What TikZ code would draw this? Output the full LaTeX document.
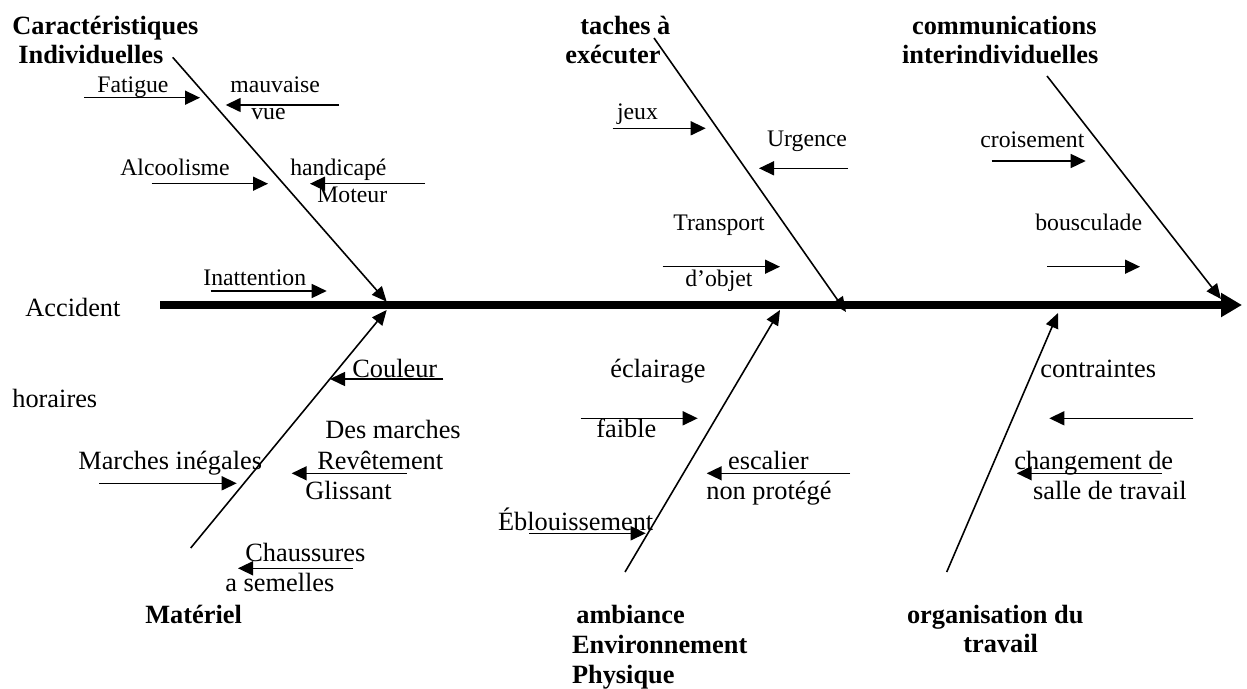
\documentclass[tikz,border=0pt]{standalone}
\usepackage{fontspec}
\setmainfont{Liberation Serif}
\usetikzlibrary{arrows.meta}

\begin{document}
\begin{tikzpicture}[
    x=0.02cm,
    y=-0.02cm,
    lbl/.style={anchor=base west, inner sep=0pt, font=\fontsize{13.5}{16}\selectfont},
    lblbig/.style={lbl, font=\fontsize{15}{18}\selectfont},
    head/.style={lbl, font=\fontsize{15}{18}\selectfont\bfseries},
    cause/.style={line width=0.85pt, -{Triangle[length=0.3cm, width=0.28cm]}},
    bone/.style={line width=0.9pt, -{Triangle[length=0.3cm, width=0.26cm]}},
    spine/.style={line width=4.3pt, -{Triangle[length=0.42cm, width=0.46cm]}}
  ]
    \useasboundingbox (0,0) rectangle (1247,689);

    % spine
    \node[lblbig] (accident) at (25,316) {Accident};
    \coordinate (spine-s) at (160,305);
    \coordinate (spine-e) at (1242,305);
    \draw[spine] (spine-s) -- (spine-e);

    % main bones
    \foreach \n/\xa/\ya/\xb/\yb in {indiv/172.7/57.3/386.7/301.7, taches/654/38/846/312,
        comm/1047/76/1221/299, mater/190.7/548/386.7/310,
        ambi/625/572/780/310, orga/946.7/572/1058/313}{
      \coordinate (\n-s) at (\xa,\ya);
      \coordinate (\n-e) at (\xb,\yb);
      \draw[bone] (\n-s) -- (\n-e);
    }

    % small causes
    \foreach \n/\xa/\xb/\y in {fat/84/200/97.7, mauv/339/225.7/105, alc/151.7/268/183.7,
        hand/425/310/183.7, inat/210.7/326.7/291, jeux/612.7/705.7/128.3,
        urg/848/759/168.3, transp/662.7/780/266.7, crois/991.7/1085.7/161,
        bousc/1047.3/1140/266.7, coul/443.3/330/379, revet/406.7/291.7/473.3,
        march/99.3/236.7/483.3, chaus/353/238/568.3, eclair/580.7/697.7/418.3,
        escal/850/706.7/473.3, eblou/529.3/645.7/533.3, contr/1193.3/1049.3/418.3,
        chang/1161.7/1016.7/473.3}{
      \coordinate (\n-s) at (\xa,\y);
      \coordinate (\n-e) at (\xb,\y);
      \draw[cause] (\n-s) -- (\n-e);
    }

    % bone titles
    \node[head] (carac) at (12,34.3) {Caractéristiques};
    \node[head] (indivt) at (18,64) {Individuelles};
    \node[head] (tachest) at (580,34.3) {taches à};
    \node[head] (execut) at (565,64) {exécuter};
    \node[head] (commt) at (911.7,34.3) {communications};
    \node[head] (inter) at (901.7,64) {interindividuelles};
    \node[head] (matert) at (145,623.3) {Matériel};
    \node[head] (ambit) at (576,623.3) {ambiance};
    \node[head] (envir) at (571.7,653.3) {Environnement};
    \node[head] (physi) at (571.7,683.3) {Physique};
    \node[head] (orgat) at (906.7,623.3) {organisation du};
    \node[head] (trav) at (963,652.7) {travail};

    % labels, upper side
    \node[lbl] (fatigue) at (97,92.7) {Fatigue};
    \node[lbl] (mauvaise) at (230,92.7) {mauvaise};
    \node[lbl] (vue) at (251,119.3) {vue};
    \node[lbl] (alcool) at (120,175.7) {Alcoolisme};
    \node[lbl] (handic) at (290,175.7) {handicapé};
    \node[lbl] (moteur) at (317,202.7) {Moteur};
    \node[lbl] (inatt) at (203,285.7) {Inattention};
    \node[lbl] (jeux) at (616.7,120) {jeux};
    \node[lbl] (urgence) at (766.7,146.7) {Urgence};
    \node[lbl] (transport) at (673,231) {Transport};
    \node[lbl] (objet) at (685,286) {d’objet};
    \node[lbl] (croise) at (980,147.3) {croisement};
    \node[lbl] (bouscul) at (1035,230.7) {bousculade};

    % labels, lower side
    \node[lblbig] (couleur) at (352,377.3) {Couleur};
    \node[lblbig] (horaires) at (12,407.3) {horaires};
    \node[lblbig] (desmarch) at (325,438.3) {Des marches};
    \node[lblbig] (marches) at (78,469.3) {Marches inégales};
    \node[lblbig] (revetem) at (317,469.3) {Revêtement};
    \node[lblbig] (glissant) at (305,499.3) {Glissant};
    \node[lblbig] (chaussur) at (245,561) {Chaussures};
    \node[lblbig] (semelles) at (225,591) {a semelles};
    \node[lblbig] (eclairage) at (610,377.3) {éclairage};
    \node[lblbig] (faible) at (596,437.7) {faible};
    \node[lblbig] (escalier) at (727.7,469.3) {escalier};
    \node[lblbig] (nonprot) at (706,499.3) {non protégé};
    \node[lblbig] (eblouis) at (497.7,530) {Éblouissement};
    \node[lblbig] (contraint) at (1040,377.3) {contraintes};
    \node[lblbig] (changem) at (1014,469.3) {changement de};
    \node[lblbig] (salle) at (1032.7,499.3) {salle de travail};
  \end{tikzpicture}
\end{document}
